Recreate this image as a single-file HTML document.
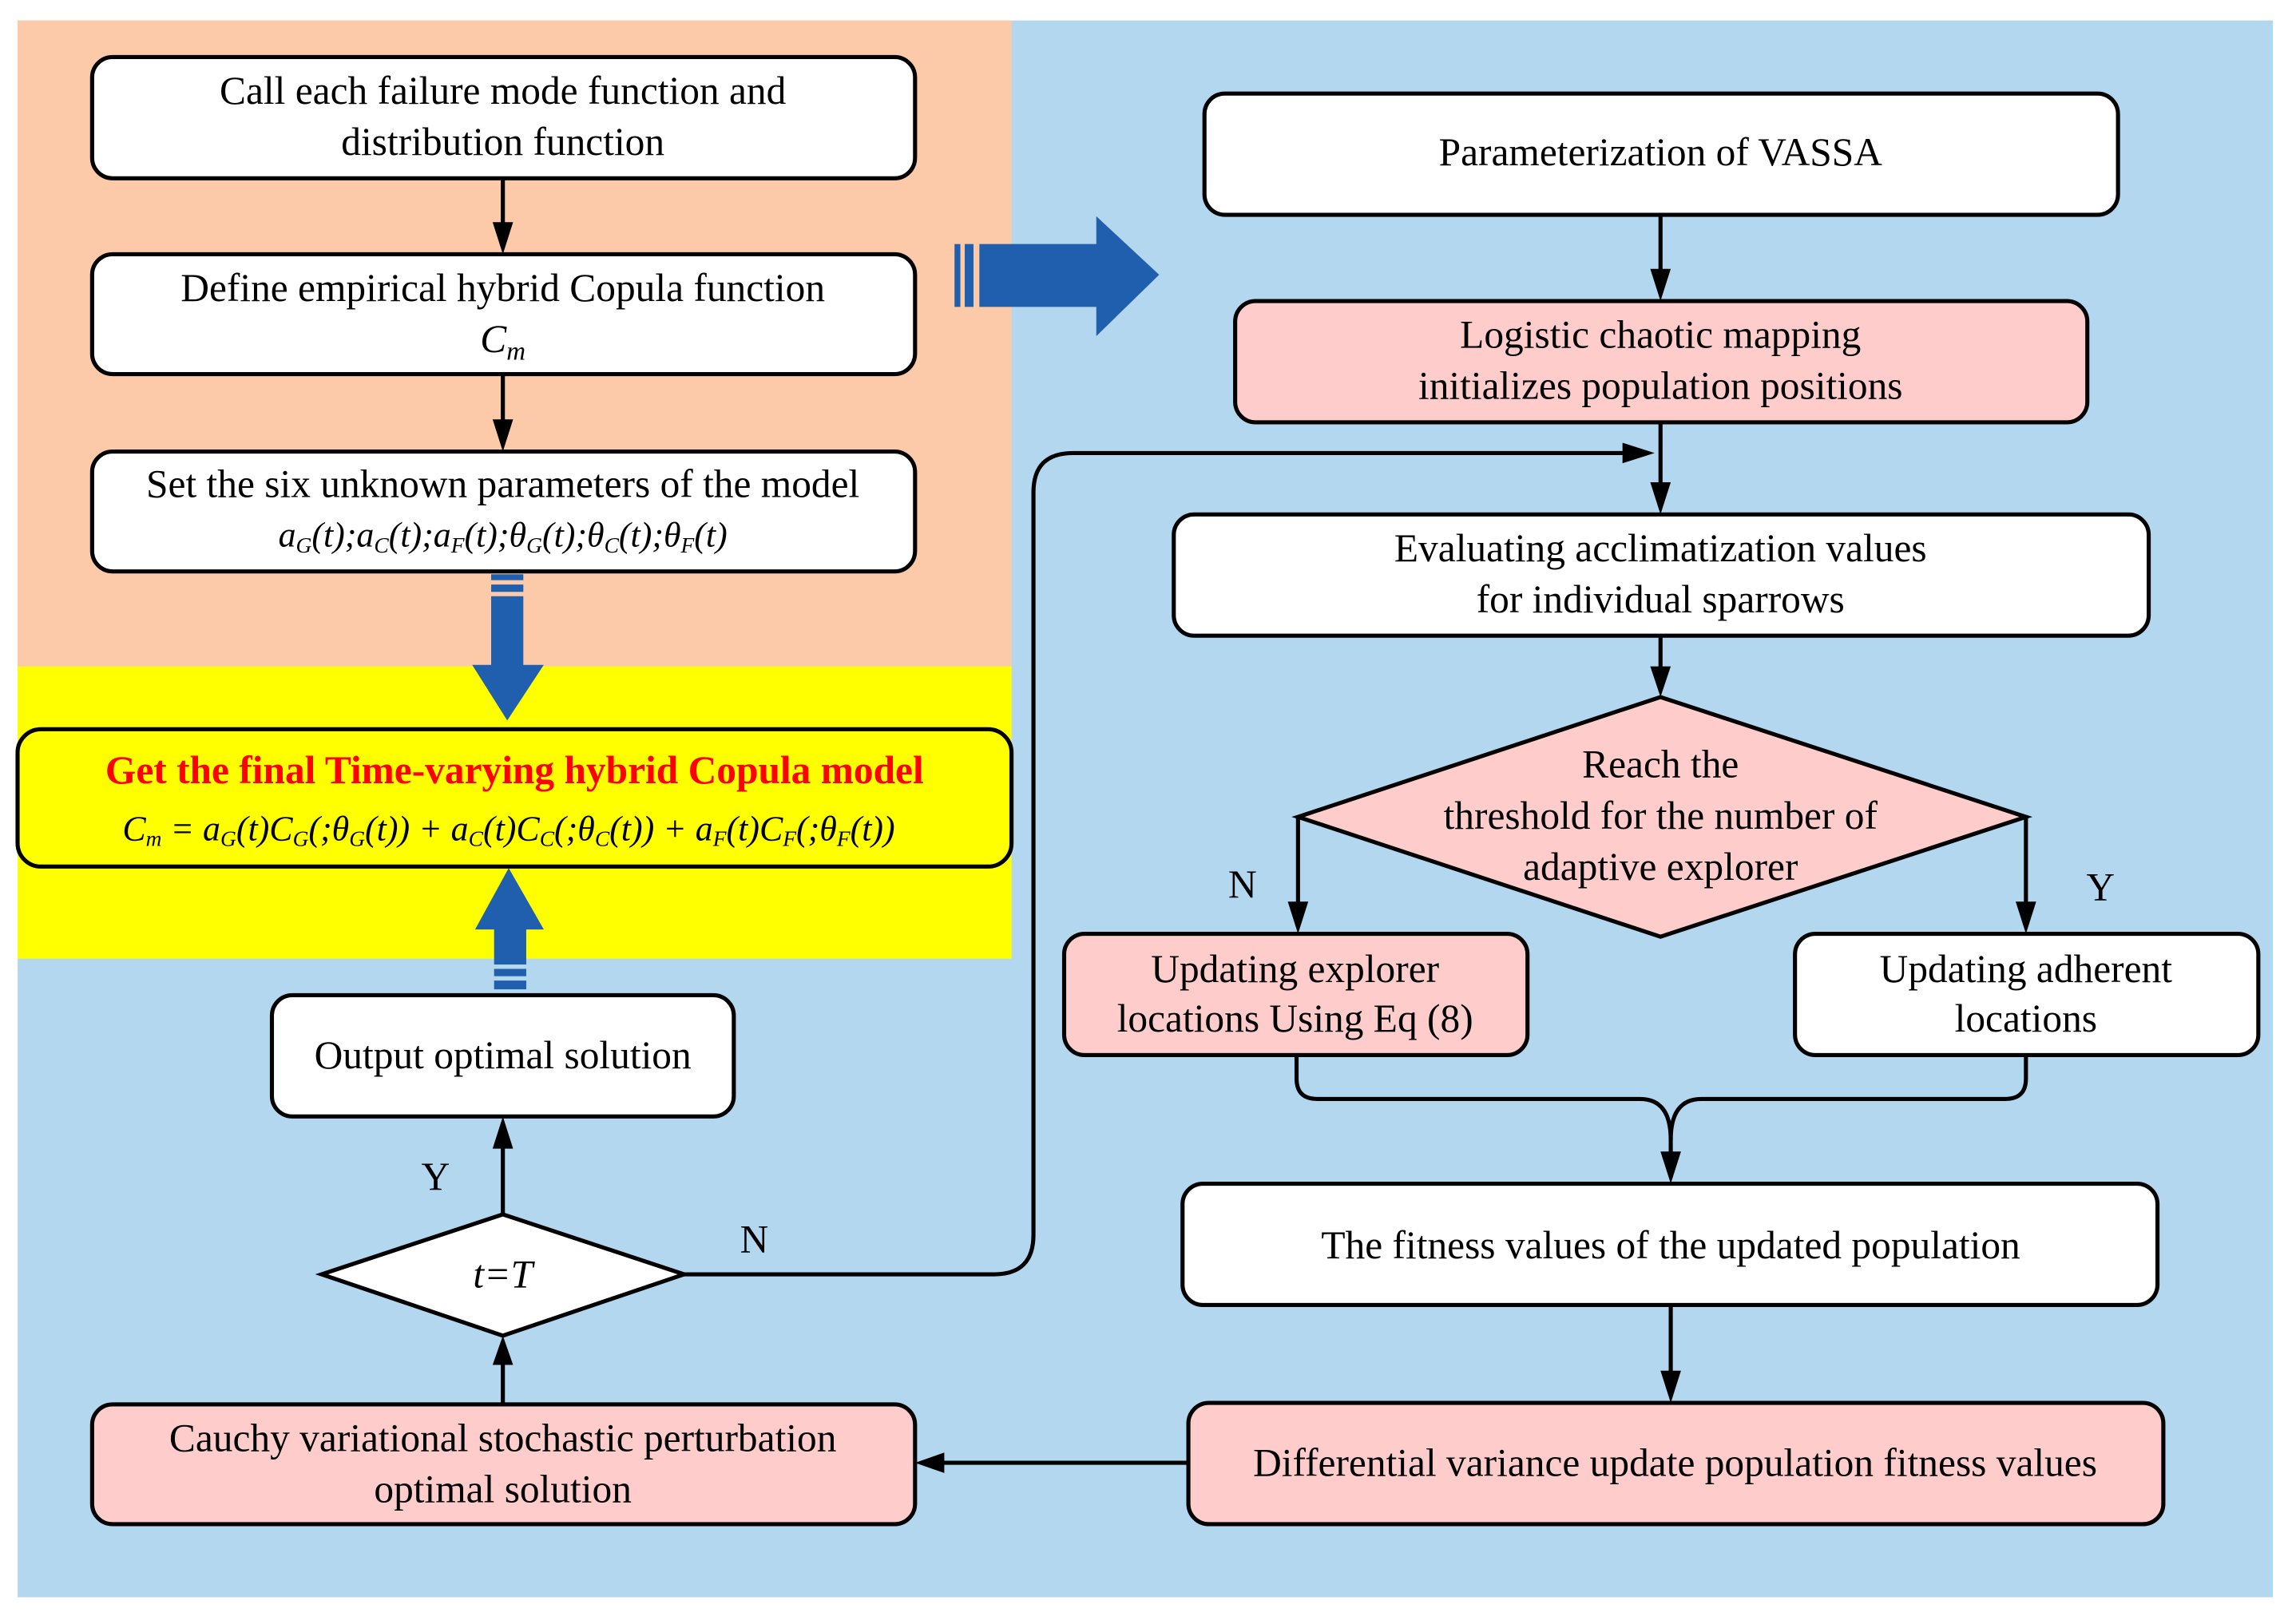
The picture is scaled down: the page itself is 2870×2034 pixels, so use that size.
<!DOCTYPE html>
<html><head><meta charset="utf-8"><style>
html,body{margin:0;padding:0;background:#fff}
svg{display:block}
text,tspan{font-family:"Liberation Serif","Times New Roman",Times,serif}
</style></head><body>
<svg width="2870" height="2034" viewBox="0 0 1568 1111.3" xmlns="http://www.w3.org/2000/svg">
<rect x="0" y="0" width="1568" height="1112" fill="#fff"/>
<rect x="12" y="14" width="1543" height="1079" fill="#b3d7ee"/>
<rect x="12" y="14" width="680" height="442" fill="#fccaa9"/>
<rect x="12" y="456" width="680" height="200" fill="#ffff00"/>

<g stroke="#000" stroke-width="2.8" fill="#fff">
<rect x="63" y="39" width="563" height="83" rx="14"/>
<rect x="63" y="174" width="563" height="82" rx="14"/>
<rect x="63" y="309" width="563" height="82" rx="14"/>
<rect x="12" y="499" width="680" height="94" rx="16" fill="#ffff00"/>
<rect x="186" y="681" width="316" height="83" rx="14"/>
<polygon points="220,872 344,831 468,872 344,914"/>
<rect x="63" y="961" width="563" height="82" rx="14" fill="#ffcccc"/>
<rect x="824" y="64" width="625" height="83" rx="14"/>
<rect x="845" y="206" width="583" height="83" rx="14" fill="#ffcccc"/>
<rect x="803" y="352" width="667" height="83" rx="14"/>
<polygon points="888,559 1136,477 1386,559 1136,641" fill="#ffcccc"/>
<rect x="728" y="639" width="317" height="83" rx="14" fill="#ffcccc"/>
<rect x="1228" y="639" width="317" height="83" rx="14"/>
<rect x="809" y="810" width="667" height="83" rx="14"/>
<rect x="813" y="960" width="667" height="83" rx="14" fill="#ffcccc"/>
</g>

<g stroke="#000" stroke-width="2.8" fill="none">
<line x1="344" y1="122" x2="344" y2="160"/>
<line x1="344" y1="256" x2="344" y2="295"/>
<line x1="344" y1="831" x2="344" y2="780"/>
<line x1="344" y1="961" x2="344" y2="928"/>
<line x1="812" y1="1001" x2="640" y2="1001"/>
<path d="M468,872 L680,872 Q707,872 707,845 L707,337 Q707,310 734,310 L1115,310"/>
<line x1="1136" y1="147" x2="1136" y2="192"/>
<line x1="1136" y1="289" x2="1136" y2="338"/>
<line x1="1136" y1="435" x2="1136" y2="463"/>
<path d="M888,559 L888,625"/>
<path d="M1386,559 L1386,625"/>
<line x1="1143" y1="893" x2="1143" y2="946"/>
<path d="M887,722 L887,738 Q887,752 901,752 L1122,752 Q1143,752 1143,780 L1143,796"/>
<path d="M1386,722 L1386,738 Q1386,752 1372,752 L1164,752 Q1143,752 1143,780"/>
</g>
<g fill="#000">
<polygon points="337,152 351,152 344,174"/>
<polygon points="337,287 351,287 344,309"/>
<polygon points="337,786 351,786 344,764"/>
<polygon points="337,934 351,934 344,914"/>
<polygon points="646,994 646,1008 626,1001"/>
<polygon points="1110,303 1110,317 1132,310"/>
<polygon points="1129,184 1143,184 1136,206"/>
<polygon points="1129,330 1143,330 1136,352"/>
<polygon points="1129,456 1143,456 1136,477"/>
<polygon points="881,617 895,617 888,639"/>
<polygon points="1379,617 1393,617 1386,639"/>
<polygon points="1136,788 1150,788 1143,810"/>
<polygon points="1136,938 1150,938 1143,960"/>
</g>

<g fill="#1f5fae">
<polygon points="336,408 358,408 358,455 372,455 347,493 323,455 336,455"/>
<rect x="336" y="393" width="22" height="4"/><rect x="336" y="400" width="22" height="5"/>
<polygon points="338,636 325,636 348,594 372,636 360,636 360,660 338,660"/>
<rect x="338" y="663" width="22" height="5"/><rect x="338" y="671" width="22" height="6"/>
<polygon points="670,167 750,167 750,148 793,188 750,230 750,210 670,210"/>
<rect x="653" y="167" width="4" height="43"/><rect x="660" y="167" width="6" height="43"/>
</g>

<g font-size="27" text-anchor="middle" fill="#000">
<text x="344" y="71">Call each failure mode function and</text>
<text x="344" y="106">distribution function</text>
<text x="344" y="206">Define empirical hybrid Copula function</text>
<text x="344" y="241" font-style="italic">C<tspan font-size="18" dy="5">m</tspan></text>
<text x="344" y="340">Set the six unknown parameters of the model</text>
<text x="344" y="374" font-size="24" font-style="italic">a<tspan font-size="15" dy="4">G</tspan><tspan dy="-4">(t);a</tspan><tspan font-size="15" dy="4">C</tspan><tspan dy="-4">(t);a</tspan><tspan font-size="15" dy="4">F</tspan><tspan dy="-4">(t);θ</tspan><tspan font-size="15" dy="4">G</tspan><tspan dy="-4">(t);θ</tspan><tspan font-size="15" dy="4">C</tspan><tspan dy="-4">(t);θ</tspan><tspan font-size="15" dy="4">F</tspan><tspan dy="-4">(t)</tspan></text>
<text x="352" y="536" font-weight="bold" fill="#ff0000">Get the final Time-varying hybrid Copula model</text>
<text x="348" y="575" font-size="24" font-style="italic">C<tspan font-size="15" dy="4">m</tspan><tspan dy="-4"> = a</tspan><tspan font-size="15" dy="4">G</tspan><tspan dy="-4">(t)C</tspan><tspan font-size="15" dy="4">G</tspan><tspan dy="-4">(;θ</tspan><tspan font-size="15" dy="4">G</tspan><tspan dy="-4">(t)) + a</tspan><tspan font-size="15" dy="4">C</tspan><tspan dy="-4">(t)C</tspan><tspan font-size="15" dy="4">C</tspan><tspan dy="-4">(;θ</tspan><tspan font-size="15" dy="4">C</tspan><tspan dy="-4">(t)) + a</tspan><tspan font-size="15" dy="4">F</tspan><tspan dy="-4">(t)C</tspan><tspan font-size="15" dy="4">F</tspan><tspan dy="-4">(;θ</tspan><tspan font-size="15" dy="4">F</tspan><tspan dy="-4">(t))</tspan></text>
<text x="344" y="731">Output optimal solution</text>
<text x="344" y="881" font-style="italic">t=T</text>
<text x="298" y="814">Y</text>
<text x="516" y="857">N</text>
<text x="344" y="993">Cauchy variational stochastic perturbation</text>
<text x="344" y="1028">optimal solution</text>
<text x="1136" y="113">Parameterization of VASSA</text>
<text x="1136" y="238">Logistic chaotic mapping</text>
<text x="1136" y="273">initializes population positions</text>
<text x="1136" y="384">Evaluating acclimatization values</text>
<text x="1136" y="419">for individual sparrows</text>
<text x="1136" y="532">Reach the</text>
<text x="1136" y="567">threshold for the number of</text>
<text x="1136" y="602">adaptive explorer</text>
<text x="850" y="614">N</text>
<text x="1437" y="616">Y</text>
<text x="886" y="672">Updating explorer</text>
<text x="886" y="706">locations Using Eq (8)</text>
<text x="1386" y="672">Updating adherent</text>
<text x="1386" y="706">locations</text>
<text x="1143" y="861">The fitness values of the updated population</text>
<text x="1146" y="1010">Differential variance update population fitness values</text>
</g>
</svg>
</body></html>
